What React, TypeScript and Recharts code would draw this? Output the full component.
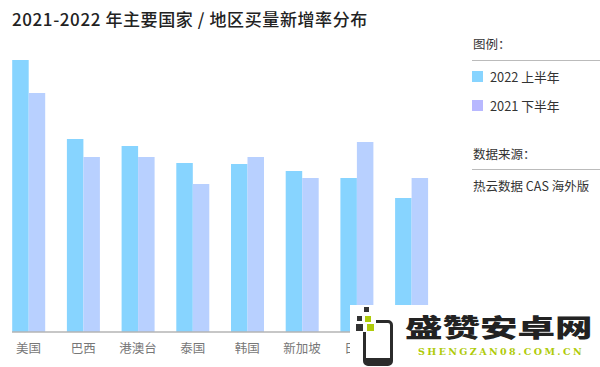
import React from "react";
import { BarChart, Bar, XAxis, YAxis } from "recharts";

const categories = ["美国", "巴西", "港澳台", "泰国", "韩国", "新加坡", "日本", ""];
const firstHalf2022 = [272, 193, 186, 169, 168, 161, 154, 134];
const secondHalf2021 = [239, 175, 175, 148, 175, 154, 190, 154];

const legendItems = [
  { label: "2022 上半年", color: "#87D4FF" },
  { label: "2021 下半年", color: "#B8B8FF" },
];

const data = categories.map((name, i) => ({
  name,
  first: firstHalf2022[i],
  second: secondHalf2021[i],
}));

const FONT = '"Noto Sans CJK SC", "Noto Sans", sans-serif';

const abs = (left: number, top: number): React.CSSProperties => ({
  position: "absolute",
  left,
  top,
  whiteSpace: "nowrap",
  lineHeight: 1,
});

const Square = ({ x, y, size, color }: { x: number; y: number; size: number; color: string }) => (
  <div style={{ position: "absolute", left: x, top: y, width: size, height: size, background: color }} />
);

const App = () => {
  return (
    <div
      style={{
        position: "absolute",
        left: 0,
        top: 0,
        width: 600,
        height: 367,
        overflow: "hidden",
        background: "#fff",
        fontFamily: FONT,
      }}
    >
      <div style={{ ...abs(12, 10), fontSize: 17, fontWeight: 500, letterSpacing: 0.6, color: "#222" }}>
        2021-2022 年主要国家 / 地区买量新增率分布
      </div>

      <div style={{ position: "absolute", left: 0, top: 0 }}>
        <BarChart
          width={450}
          height={367}
          data={data}
          margin={{ top: 60, right: 22, bottom: 0, left: 12 }}
          barCategoryGap={0}
          barGap={0}
          barSize={16.5}
        >
          <XAxis
            dataKey="name"
            height={35}
            padding={{ left: -10.8, right: -10.8 }}
            axisLine={{ stroke: "#b5b5b5", strokeWidth: 1.5 }}
            tickLine={false}
            interval={0}
            tick={{ fontSize: 12.5, fill: "#777", fontFamily: FONT }}
            tickMargin={6}
          />
          <YAxis hide domain={[0, 272]} />
          <Bar dataKey="first" fill="#87D4FF" isAnimationActive={false} />
          <Bar dataKey="second" fill="#B8D0FF" isAnimationActive={false} />
        </BarChart>
      </div>

      <div style={{ ...abs(473, 38), fontSize: 12.5, color: "#333" }}>图例：</div>
      <div style={{ position: "absolute", left: 472, top: 60, width: 128, height: 1, background: "#bbb" }} />
      {legendItems.map((item, i) => (
        <React.Fragment key={item.label}>
          <div
            style={{
              position: "absolute",
              left: 472,
              top: 71 + i * 29,
              width: 11,
              height: 11,
              background: item.color,
            }}
          />
          <div style={{ ...abs(490, 71 + i * 28.5), fontSize: 12.8, color: "#333" }}>{item.label}</div>
        </React.Fragment>
      ))}

      <div style={{ ...abs(473, 148), fontSize: 12.5, color: "#333" }}>数据来源：</div>
      <div style={{ position: "absolute", left: 472, top: 169, width: 128, height: 1, background: "#bbb" }} />
      <div style={{ ...abs(473, 180), fontSize: 12.5, color: "#333" }}>热云数据 CAS 海外版</div>

      {/* watermark sitting on top of the picture */}
      <div style={{ position: "absolute", left: 350, top: 305, width: 250, height: 62, background: "#fff" }} />
      <div
        style={{
          position: "absolute",
          left: 363,
          top: 320,
          width: 24,
          height: 35,
          border: "3px solid #2b2b2b",
          borderBottomWidth: 8,
          boxSizing: "content-box",
          borderRadius: 5,
        }}
      />
      <div style={{ position: "absolute", left: 362, top: 318, width: 14, height: 14, background: "#fff" }} />
      <Square x={364} y={307} size={5} color="#333" />
      <Square x={357} y={316} size={5} color="#333" />
      <Square x={365} y={316} size={6} color="#AFCB0A" />
      <Square x={356} y={324} size={7} color="#333" />
      <Square x={367} y={324} size={7} color="#AFCB0A" />
      <div
        style={{
          ...abs(405, 314),
          fontSize: 25,
          fontWeight: 900,
          color: "#222",
          transform: "scaleX(1.5)",
          transformOrigin: "left top",
        }}
      >
        盛赞安卓网
      </div>
      <div
        style={{
          ...abs(418, 347),
          fontSize: 9.5,
          fontWeight: 700,
          color: "#AFCB0A",
          letterSpacing: 2.4,
          fontFamily: '"DejaVu Serif", serif',
        }}
      >
        SHENGZAN08.COM.CN
      </div>
    </div>
  );
};

export default App;
